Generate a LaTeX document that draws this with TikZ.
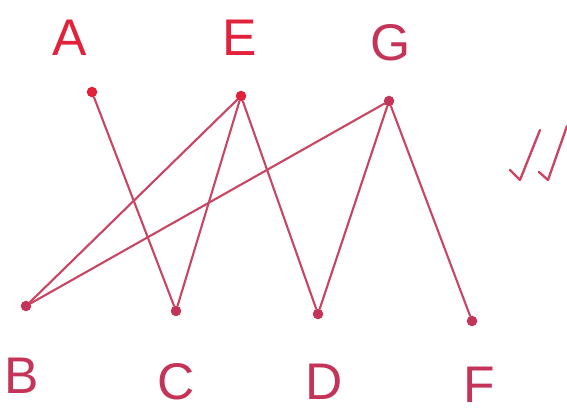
\documentclass[tikz,border=0pt]{standalone}
\usepackage{fontspec}
\setmainfont{Liberation Sans}
\usetikzlibrary{positioning}
\definecolor{inkC} {RGB}{196, 52, 88}
\definecolor{redC} {RGB}{226, 34, 58}
\definecolor{lineC}{RGB}{200, 70, 100}
\tikzset{
  dot/.style  = {circle, fill=inkC, inner sep=0pt, minimum size=9pt},
  edge/.style = {line width=1.8pt, color=lineC, line cap=round},
  lbl/.style  = {font=\fontsize{44}{44}\selectfont, color=inkC, inner sep=1pt},
  tick/.style = {line width=2pt, color=lineC, line cap=round, line join=round},
}
\begin{document}
\begin{tikzpicture}[x=0.03cm, y=-0.03cm]

% ---- Frame (pixel coordinates, y downwards) ---------------------------------
\useasboundingbox (0,0) rectangle (567,415);

% ---- Vertices ---------------------------------------------------------------
\node[dot, fill=redC] (A) at (92,92)   {};
\node[dot, fill=redC] (E) at (241,96)  {};
\node[dot]            (G) at (389,101) {};
\node[dot]            (B) at (26,306)  {};
\node[dot]            (C) at (176,311) {};
\node[dot]            (D) at (318,314) {};
\node[dot]            (F) at (472,321) {};

% ---- Letters ----------------------------------------------------------------
\node[lbl, color=redC] (labA) at (70,38)  {A};
\node[lbl, color=redC] (labE) at (240,38) {E};
\node[lbl] (labG) at (391,43)  {G};
\node[lbl] (labB) at (22,376)  {B};
\node[lbl] (labC) at (176,382) {C};
\node[lbl] (labD) at (324,382) {D};
\node[lbl] (labF) at (479,385) {F};

% ---- Edges ------------------------------------------------------------------
\foreach \u/\v in {A/C, E/C, E/D, E/B, G/D, G/F, G/B}
  \draw[edge] (\u) -- (\v);

% ---- Check marks ------------------------------------------------------------
\draw[tick] (510,170) -- (520,180) -- (540,130);
\draw[tick] (539,172) -- (548,180) -- (567,126);

\end{tikzpicture}
\end{document}
